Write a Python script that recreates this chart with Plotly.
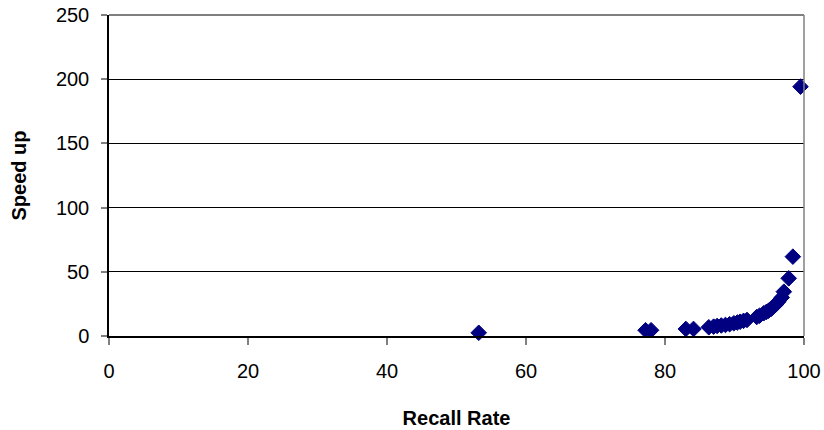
import plotly.graph_objects as go

recall_rate = [53.2, 77.2, 78.0, 83.0, 84.1, 86.3, 87.0, 87.5, 88.1, 88.7, 89.3, 89.9, 90.4,
               90.8, 91.3, 91.8, 93.2, 93.6, 94.2, 94.6, 94.9, 95.3, 95.6, 96.0, 96.3,
               96.8, 97.1, 97.8, 98.4, 99.5]
speed_up = [2.5, 4.5, 4.5, 5.5, 5.5, 6.8, 7.3, 7.8, 8.2, 8.6, 9.2, 9.9, 10.5,
            11.1, 11.8, 12.5, 14.8, 15.8, 17.7, 18.8, 19.7, 21.2, 22.8, 24.8, 26.7,
            30.0, 34.5, 44.9, 61.8, 194.2]

x_ticks = [0, 20, 40, 60, 80, 100]
y_ticks = [0, 50, 100, 150, 200, 250]

font_family = "Liberation Sans, Arial, sans-serif"

fig = go.Figure()
fig.add_trace(go.Scatter(
    x=recall_rate, y=speed_up, mode="markers",
    marker=dict(symbol="diamond", size=12, color="#000080",
                line=dict(color="#000080", width=1)),
    showlegend=False, cliponaxis=False,
))

fig.update_layout(
    width=824, height=430,
    margin=dict(l=109, r=20, t=15, b=94),
    paper_bgcolor="white", plot_bgcolor="white",
    font=dict(family=font_family, size=20, color="black"),
    xaxis=dict(
        range=[0, 100], tickvals=x_ticks, showgrid=False, zeroline=False,
        showline=True, linecolor="black", linewidth=1.5, automargin=False,
        ticks="outside", ticklen=7, tickcolor="#808080", tickwidth=1.5,
        ticklabelstandoff=9, tickfont=dict(size=20),
        title=dict(text="<b>Recall Rate</b>", font=dict(size=20), standoff=30),
    ),
    yaxis=dict(
        range=[0, 250], tickvals=y_ticks, showgrid=True, gridcolor="black", gridwidth=1,
        zeroline=False, showline=True, linecolor="black", linewidth=1.5, automargin=False,
        ticks="outside", ticklen=6, tickcolor="#808080", tickwidth=1.5,
        ticklabelstandoff=8, tickfont=dict(size=20),
        title=dict(text="<b>Speed up</b>", font=dict(size=20), standoff=24),
    ),
    shapes=[
        dict(type="line", xref="paper", yref="paper", x0=0, x1=1, y0=1, y1=1,
             line=dict(color="black", width=1), layer="below"),
        dict(type="line", xref="paper", yref="paper", x0=1, x1=1, y0=0, y1=1,
             line=dict(color="#808080", width=1.5)),
    ],
)

fig.write_html(
    "out.html",
    config={"displayModeBar": False},
    post_script="document.body.style.margin='0';document.body.style.overflow='hidden';",
)
